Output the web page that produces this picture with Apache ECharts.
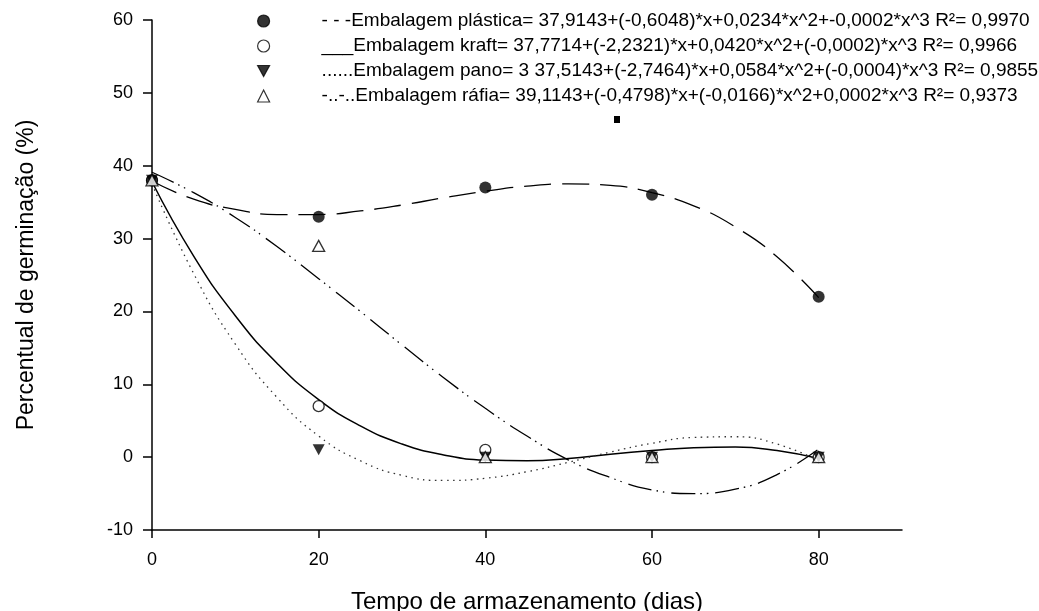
<!DOCTYPE html>
<html>
<head>
<meta charset="utf-8">
<script src="https://cdn.jsdelivr.net/npm/echarts@6/dist/echarts.min.js"></script>
<style>
  html, body { margin: 0; padding: 0; background: #fff; }
  #chart { width: 1039px; height: 611px; }
</style>
</head>
<body>
<div id="chart"></div>
<script>
// Storage time (days) at which germination was measured
const days = [0, 20, 40, 60, 80];

// Observed germination (%) per packaging type
const plastica = [38, 33, 37, 36, 22];
const kraft = [38, 7, 1, 0, 0];
const pano = [38, 1, 0, 0, 0];
const rafia = [38, 29, 0, 0, 0];

// Fitted cubic curves, sampled every 5 days
const curveDays = [0, 5, 10, 15, 20, 25, 30, 35, 40, 45, 50, 55, 60, 65, 70, 75, 80];
const plasticaFit = [37.9, 35.4, 34.0, 33.3, 33.3, 33.8, 34.6, 35.6, 36.5, 37.2, 37.5, 37.3, 36.3, 34.5, 31.6, 27.5, 21.9];
const kraftFit = [37.8, 27.6, 19.4, 12.9, 7.9, 4.3, 1.8, 0.3, -0.4, -0.5, -0.2, 0.4, 0.9, 1.3, 1.4, 0.9, -0.2];
const panoFit = [37.5, 25.2, 15.5, 8.2, 2.9, -0.5, -2.5, -3.2, -2.9, -2.0, -0.7, 0.7, 1.9, 2.7, 2.8, 1.8, -0.5];
const rafiaFit = [39.1, 36.3, 32.9, 28.9, 24.5, 20.0, 15.4, 10.9, 6.7, 2.9, -0.4, -2.8, -4.5, -5.0, -4.4, -2.4, 1.1];

// Tick values and legend texts
const xTicks = [0, 20, 40, 60, 80];
const seriesNames = ['Embalagem plástica', 'Embalagem kraft', 'Embalagem pano', 'Embalagem ráfia'];
const legendLines = [
  '- - -Embalagem plástica= 37,9143+(-0,6048)*x+0,0234*x^2+-0,0002*x^3 R²= 0,9970',
  '___Embalagem kraft= 37,7714+(-2,2321)*x+0,0420*x^2+(-0,0002)*x^3 R²= 0,9966',
  '......Embalagem pano= 3 37,5143+(-2,7464)*x+0,0584*x^2+(-0,0004)*x^3 R²= 0,9855',
  '-..-..Embalagem ráfia= 39,1143+(-0,4798)*x+(-0,0166)*x^2+0,0002*x^3 R²= 0,9373'
];

const FONT = 'Liberation Sans, Arial, sans-serif';
const pairs = (xs, ys) => xs.map((x, i) => [x, ys[i]]);

const triangleDown = 'path://M0,0 L12,0 L6,11 Z';

function curve(name, xs, ys, lineStyle) {
  return {
    name: name,
    type: 'line',
    data: pairs(xs, ys),
    smooth: 0.5,
    symbol: 'none',
    silent: true,
    z: 2,
    lineStyle: Object.assign({ color: '#000', width: 1.3, cap: 'butt' }, lineStyle)
  };
}

function points(name, ys, symbol, size, itemStyle, z) {
  return {
    name: name,
    type: 'scatter',
    data: pairs(days, ys),
    symbol: symbol,
    symbolSize: size,
    itemStyle: itemStyle,
    silent: true,
    z: z
  };
}

const chart = echarts.init(document.getElementById('chart'), null, { renderer: 'canvas' });

chart.setOption({
  animation: false,
  backgroundColor: '#fff',
  grid: {
    left: 152, right: 137, top: 20, bottom: 81,
    containLabel: false,
    outerBoundsMode: 'none'
  },
  legend: {
    data: seriesNames,
    orient: 'vertical',
    left: 252,
    top: 6,
    itemWidth: 12,
    itemHeight: 12,
    itemGap: 5,
    selectedMode: false,
    itemStyle: { borderWidth: 1.2, borderColor: '#000' },
    formatter: function (name) {
      return legendLines[seriesNames.indexOf(name)];
    },
    textStyle: {
      fontFamily: FONT,
      fontSize: 19,
      color: '#000',
      lineHeight: 20,
      padding: [0, 0, 0, 47]
    }
  },
  xAxis: {
    type: 'value',
    min: 0,
    max: 90,
    interval: 20,
    name: 'Tempo de armazenamento (dias)',
    nameLocation: 'middle',
    nameGap: 60,
    nameTextStyle: { fontFamily: FONT, fontSize: 24, color: '#000' },
    splitLine: { show: false },
    axisLine: { show: true, onZero: false, lineStyle: { color: '#000', width: 1.5 } },
    axisTick: { show: true, inside: false, length: 8, customValues: xTicks, lineStyle: { color: '#000', width: 1.5 } },
    axisLabel: { show: true, margin: 21, customValues: xTicks, fontFamily: FONT, fontSize: 18, color: '#000' }
  },
  yAxis: {
    type: 'value',
    min: -10,
    max: 60,
    interval: 10,
    name: 'Percentual de germinação (%)',
    nameLocation: 'middle',
    nameGap: 114,
    nameRotate: 90,
    nameTextStyle: { fontFamily: FONT, fontSize: 23, color: '#000' },
    splitLine: { show: false },
    axisLine: { show: true, onZero: false, lineStyle: { color: '#000', width: 1.5 } },
    axisTick: { show: true, inside: false, length: 9, lineStyle: { color: '#000', width: 1.5 } },
    axisLabel: { show: true, margin: 19, fontFamily: FONT, fontSize: 18, color: '#000' }
  },
  graphic: [
    {
      type: 'rect',
      left: 614,
      top: 116,
      shape: { width: 6, height: 7 },
      style: { fill: '#000' },
      silent: true
    }
  ],
  series: [
    curve('curva plástica', curveDays, plasticaFit, { type: [27, 11] }),
    curve('curva kraft', curveDays, kraftFit, { type: 'solid', width: 1.5 }),
    curve('curva pano', curveDays, panoFit, { type: [1.5, 4.5], color: '#333', width: 1.3 }),
    curve('curva ráfia', curveDays, rafiaFit, { type: [24, 5, 1.5, 5, 1.5, 7] }),
    points(seriesNames[0], plastica, 'circle', 12, { color: '#000' }, 5),
    points(seriesNames[1], kraft, 'circle', 11, { color: '#fff', borderColor: '#000', borderWidth: 1.3 }, 4),
    points(seriesNames[2], pano, triangleDown, [12, 11], { color: '#000' }, 6),
    points(seriesNames[3], rafia, 'triangle', [12, 11], { color: '#fff', borderColor: '#000', borderWidth: 1.3 }, 7)
  ]
});
</script>
</body>
</html>
